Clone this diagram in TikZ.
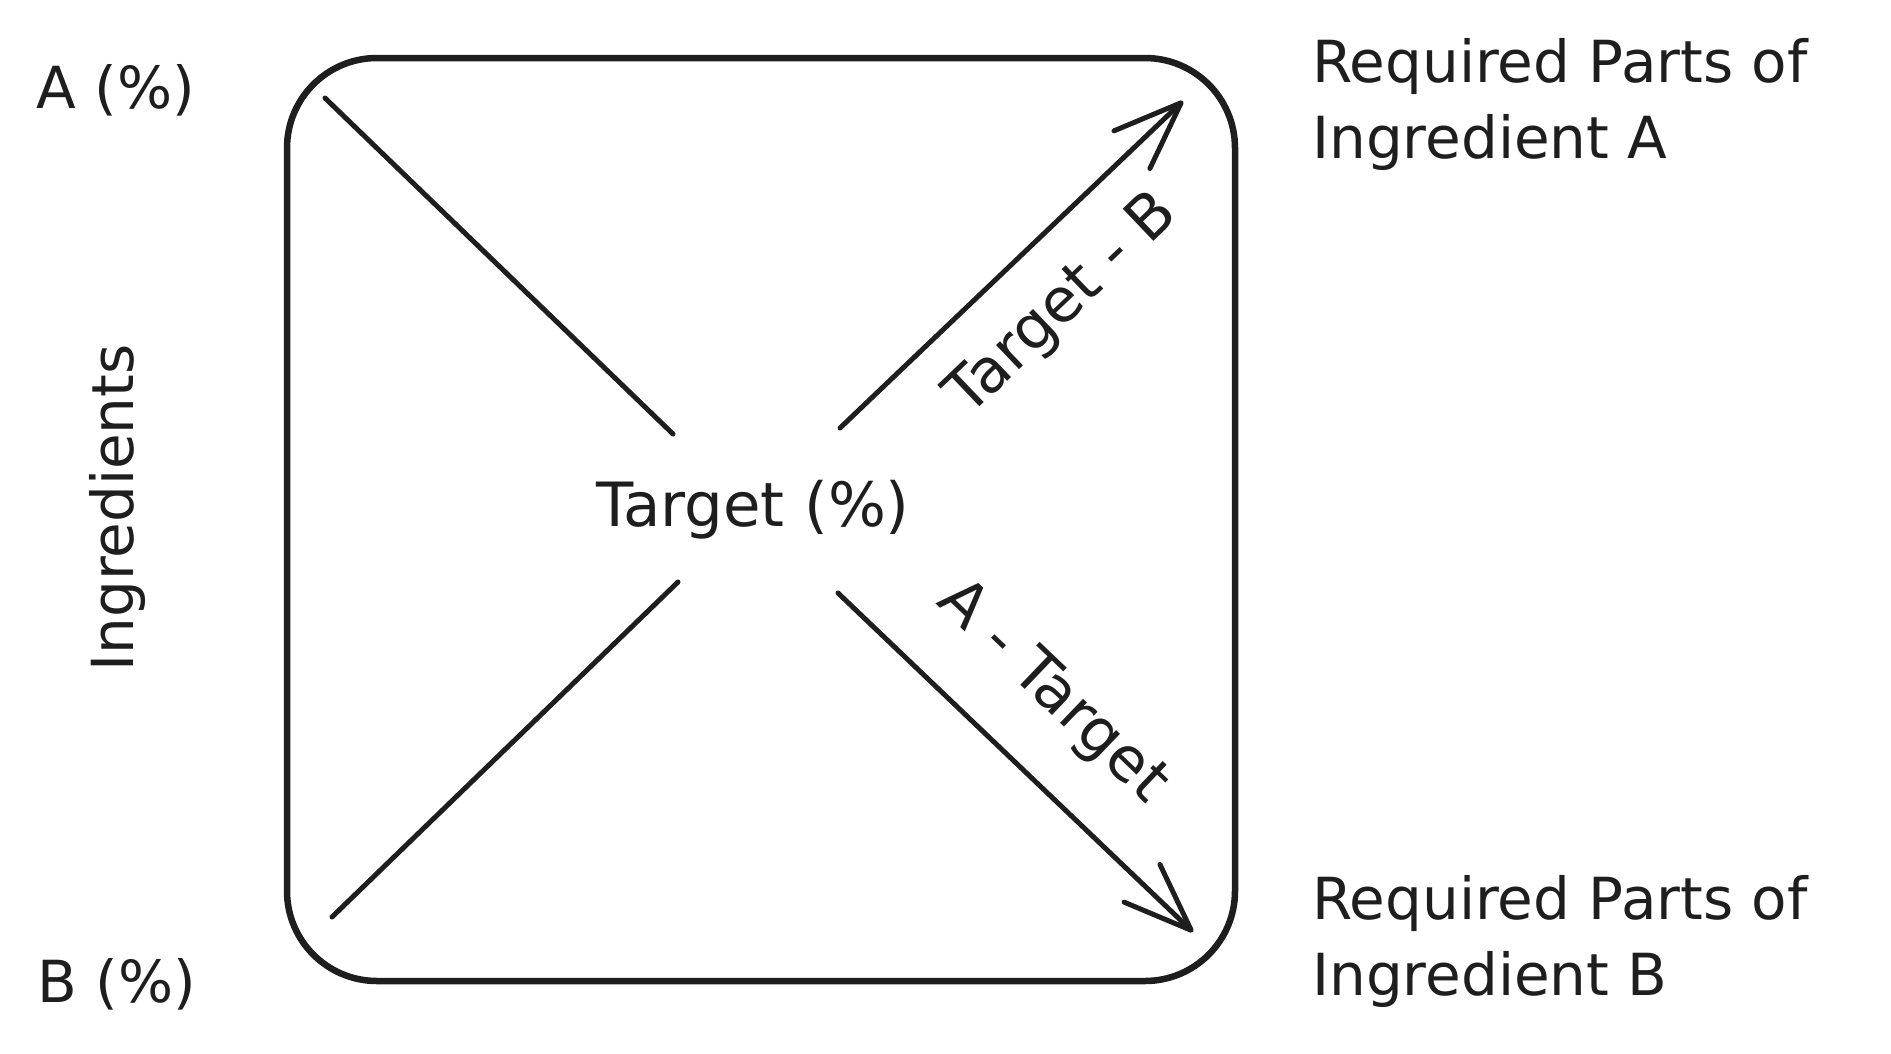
\documentclass[tikz,border=0pt]{standalone}
\usepackage{fontspec}
\setmainfont{DejaVu Sans}
\usetikzlibrary{arrows.meta}
\definecolor{ink}{HTML}{1E1E1E}
\tikzset{
  lbl/.style={text=ink, inner sep=0pt, font=\fontsize{58}{76}\selectfont},
  biglbl/.style={lbl, font=\fontsize{61}{76}\selectfont},
  boxline/.style={draw=ink, line width=6.5pt, rounded corners=90pt},
  diag/.style={draw=ink, line width=5pt, line cap=round},
  arr/.style={diag, -{Straight Barb[length=68pt,width=52pt,line width=5pt,round]}}
}
\begin{document}
\begin{tikzpicture}[x=1pt,y=-1pt]
\useasboundingbox (0,0) rectangle (1891,1053);
\fill[white] (0,0) rectangle (1891,1053);
% frame
\draw[boxline] (287,58) rectangle (1235,981);
% texts
\node[lbl, anchor=base] (pa) at (116,108) {A (\%)};
\node[lbl, anchor=base] (pb) at (117,1002) {B (\%)};
\node[lbl, anchor=base, rotate=90] (ing) at (133,508) {Ingredients};
\node[biglbl, anchor=base] (tgt) at (753,526) {Target (\%)};
\node[lbl, anchor=north west, align=left] (ra) at (1312,38) {Required Parts of\\Ingredient A};
\node[lbl, anchor=north west, align=left] (rb) at (1312,875) {Required Parts of\\Ingredient B};
\node[biglbl, rotate=43.6] (tb) at (1063,306) {Target - B};
\node[biglbl, rotate=-43.7] (at) at (1052,693) {A - Target};
% line end points
\coordinate (tl1) at (325,98);
\coordinate (tl2) at (673,434);
\coordinate (bl1) at (332,917);
\coordinate (bl2) at (678,582);
\coordinate (tr1) at (840,428);
\coordinate (tr2) at (1183,101);
\coordinate (br1) at (838,593);
\coordinate (br2) at (1193,932);
\draw[diag] (tl1) -- (tl2);
\draw[diag] (bl1) -- (bl2);
\draw[arr] (tr1) -- (tr2);
\draw[arr] (br1) -- (br2);
\end{tikzpicture}
\end{document}
